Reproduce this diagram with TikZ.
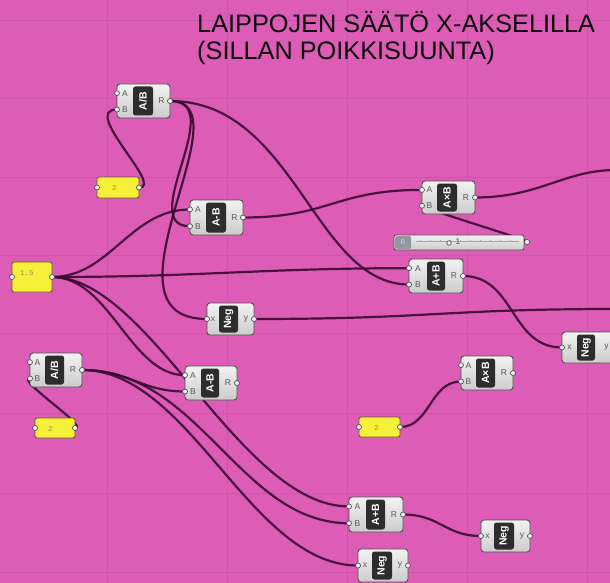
\documentclass[tikz,border=0pt]{standalone}
\usepackage{fontspec}
\setmainfont{Liberation Sans}
\newfontfamily\panelfont{Liberation Mono}
\usetikzlibrary{fit,calc}

\definecolor{canvas}{RGB}{221,93,182}
\definecolor{gridline}{RGB}{206,86,170}
\definecolor{wirecol}{RGB}{55,10,48}
\definecolor{bodytop}{RGB}{242,242,242}
\definecolor{bodybot}{RGB}{204,204,204}
\definecolor{bodyedge}{RGB}{80,80,80}
\definecolor{stripcol}{RGB}{45,45,45}
\definecolor{portlab}{RGB}{90,90,90}
\definecolor{panelfill}{RGB}{247,240,58}
\definecolor{paneledge}{RGB}{110,90,40}
\definecolor{paneltext}{RGB}{150,145,80}
\definecolor{titlecol}{RGB}{12,6,12}
\definecolor{slidertag}{RGB}{150,150,160}

\pgfdeclarelayer{canvaslayer}
\pgfdeclarelayer{wirelayer}
\pgfsetlayers{canvaslayer,wirelayer,main}

\tikzset{
  ghbody/.style={draw=bodyedge, line width=0.9pt, rounded corners=3pt,
    top color=bodytop, bottom color=bodybot, inner sep=0pt, outer sep=0pt},
  ghstrip/.style={fill=stripcol, rounded corners=2.5pt, inner sep=0pt, outer sep=0pt},
  ghtitle/.style={text=white, font=\fontsize{10.5}{10.5}\selectfont\bfseries,
    rotate=90, inner sep=0pt},
  plabel/.style={text=portlab, font=\fontsize{8.5}{8.5}\selectfont, inner sep=0pt},
  grip/.style={circle, fill=white!92!gray, draw=bodyedge, line width=0.7pt,
    minimum size=5pt, inner sep=0pt},
  wire/.style={draw=wirecol, line width=2.2pt, opacity=0.9},
  ghpanel/.style={draw=paneledge, line width=0.9pt, fill=panelfill,
    rounded corners=2pt, inner sep=0pt, outer sep=0pt},
  ptext/.style={text=paneltext, font=\panelfont\fontsize{7.5}{7.5}\selectfont,
    inner sep=0pt, anchor=west},
  titletext/.style={text=titlecol, font=\fontsize{25.3}{27}\selectfont,
    anchor=base west, inner sep=0pt},
}

% body and dark caption strip of a component
\newcommand{\ghcore}[8]{%
  \node[ghbody, fit={(#2,#3) (#4,#5)}] (#1) {};
  \node[ghstrip, fit={(#6,#3+2.5) (#7,#5-2.5)}] (#1-s) {};
  \node[ghtitle] (#1-t) at (#1-s.center) {#8};
}

% two inputs (A, B), one output (R)
\newcommand{\ghtwo}[8]{%
  \ghcore{#1}{#2}{#3}{#4}{#5}{#6}{#7}{#8}
  \pgfmathsetmacro{\ghYa}{#3+0.27*(#5-#3)}
  \pgfmathsetmacro{\ghYb}{#3+0.75*(#5-#3)}
  \pgfmathsetmacro{\ghYr}{(#3+#5)/2}
  \pgfmathsetmacro{\ghXl}{(#2+#6)/2}
  \pgfmathsetmacro{\ghXr}{(#7+#4)/2}
  \coordinate (#1-A) at (#2,\ghYa);
  \coordinate (#1-B) at (#2,\ghYb);
  \coordinate (#1-R) at (#4,\ghYr);
  \node[plabel] (#1-la) at (\ghXl,\ghYa) {A};
  \node[plabel] (#1-lb) at (\ghXl,\ghYb) {B};
  \node[plabel] (#1-lr) at (\ghXr,\ghYr) {R};
  \node[grip] (#1-gA) at (#1-A) {};
  \node[grip] (#1-gB) at (#1-B) {};
  \node[grip] (#1-gR) at (#1-R) {};
}

% negation component: input x, output y
\newcommand{\ghneg}[7]{%
  \ghcore{#1}{#2}{#3}{#4}{#5}{#6}{#7}{Neg}
  \pgfmathsetmacro{\ghYm}{(#3+#5)/2}
  \pgfmathsetmacro{\ghXl}{(#2+#6)/2}
  \pgfmathsetmacro{\ghXr}{(#7+#4)/2}
  \coordinate (#1-x) at (#2,\ghYm);
  \coordinate (#1-y) at (#4,\ghYm);
  \node[plabel] (#1-lx) at (\ghXl,\ghYm) {x};
  \node[plabel] (#1-ly) at (\ghXr,\ghYm) {y};
  \node[grip] (#1-gx) at (#1-x) {};
  \node[grip] (#1-gy) at (#1-y) {};
}

% yellow number panel
\newcommand{\ghnum}[7]{%
  \node[ghpanel, fit={(#2,#3) (#4,#5)}] (#1) {};
  \pgfmathsetmacro{\ghYm}{(#3+#5)/2}
  \pgfmathsetmacro{\ghYt}{#3+11}
  \coordinate (#1-in) at (#2,\ghYm);
  \coordinate (#1-out) at (#4,\ghYm);
  \node[ptext] (#1-txt) at (#6,\ghYt) {#7};
  \node[grip] (#1-gi) at (#1-in) {};
  \node[grip] (#1-go) at (#1-out) {};
}

\begin{document}
\begin{tikzpicture}[x=1pt,y=-1pt]
\useasboundingbox (0,0) rectangle (610,583);
\clip (0,0) rectangle (610,583);

% canvas and grid
\begin{pgfonlayer}{canvaslayer}
  \fill[canvas] (0,0) rectangle (610,583);
  \foreach \gx in {107,227,347,467,587}
    \draw[gridline, line width=0.7pt] (\gx,0) -- (\gx,583);
  \foreach \gy in {20,98,177,255,333,413,493,572}
    \draw[gridline, line width=0.7pt] (0,\gy) -- (610,\gy);
\end{pgfonlayer}

% heading
\node[titletext] (title1) at (197,33) {LAIPPOJEN SÄÄTÖ X-AKSELILLA};
\node[titletext] (title2) at (197,60) {(SILLAN POIKKISUUNTA)};

% components
\ghtwo{divT}{117}{84}{170}{118}{133}{153}{A/B}
\ghtwo{subM}{190}{200}{243}{235}{206}{226}{A-B}
\ghtwo{divL}{30}{353}{82}{387}{45}{64}{A/B}
\ghtwo{subL}{185}{366}{237}{400}{201}{219}{A-B}
\ghtwo{mulT}{422}{181}{475}{214}{437}{457}{A×B}
\ghtwo{addM}{409}{259}{463}{293}{427}{445}{A+B}
\ghtwo{mulL}{461}{356}{513}{390}{476}{495}{A×B}
\ghtwo{addB}{349}{497}{403}{532}{366}{385}{A+B}
\ghneg{negM}{207}{303}{254}{335}{219}{238}
\ghneg{negR}{562}{332}{618}{363}{577}{595}
\ghneg{negBR}{481}{520}{530}{552}{494}{514}
\ghneg{negB}{358}{549}{408}{582}{372}{392}

% number panels
\ghnum{pTwoT}{97}{177}{139}{198}{112}{2}
\ghnum{pOne}{12}{262}{52}{292}{20}{1.5}
\ghnum{pTwoL}{35}{418}{75}{438}{48}{2}
\ghnum{pTwoR}{359}{417}{400}{437}{374}{2}

% number slider
\node[ghbody, rounded corners=2pt, fit={(394,235) (524,250)}] (slider) {};
\node[fill=slidertag, rounded corners=1.5pt, inner sep=0pt,
      fit={(395,236) (411,249)}] (slider-tag) {};
\node[text=white!80!blue, font=\fontsize{7}{7}\selectfont, inner sep=0pt]
  (slider-tagtxt) at (slider-tag.center) {B};
\draw[gray!70, line width=0.5pt] (416,241) -- (519,241);
\foreach \tx in {420,430,...,515}
  \draw[gray!70, line width=0.4pt] (\tx,239.5) -- (\tx,241);
\node[grip, minimum size=4.5pt] (slider-knob) at (449,243) {};
\node[plabel, text=black!70] (slider-val) at (458,242) {1};
\coordinate (slider-R) at (527,242);
\node[grip] (slider-gR) at (slider-R) {};

% loose wire ends beyond the right edge
\coordinate (outNeg) at (616,309);
\coordinate (outMul) at (616,170);

% wires
\begin{pgfonlayer}{wirelayer}
  \draw[wire] (pTwoT-out) .. controls +(26,0) and +(-37,0) .. (divT-B);
  \draw[wire] (divT-R) .. controls +(60,0) and +(-55,0) .. (subM-B);
  \draw[wire] (divT-R) .. controls +(80,0) and +(-117,0) .. (negM-x);
  \draw[wire] (divT-R) .. controls +(125,0) and +(-95,0) .. (addM-B);
  \draw[wire] (subM-R) .. controls +(87,0) and +(-87,0) .. (mulT-A);
  \draw[wire] (slider-R) .. controls +(8,0) and +(-8,0) .. (mulT-B);
  \draw[wire] (pOne-out) .. controls +(58,0) and +(-60,0) .. (subM-A);
  \draw[wire] (pOne-out) .. controls +(148,0) and +(-149,0) .. (addM-A);
  \draw[wire] (pOne-out) .. controls +(58,0) and +(-55,0) .. (subL-A);
  \draw[wire] (pOne-out) .. controls +(98,0) and +(-109,0) .. (addB-A);
  \draw[wire] (divL-R) .. controls +(48,0) and +(-45,0) .. (subL-B);
  \draw[wire] (divL-R) .. controls +(118,0) and +(-109,0) .. (addB-B);
  \draw[wire] (divL-R) .. controls +(108,0) and +(-108,0) .. (negB-x);
  \draw[wire] (pTwoL-out) .. controls +(15,0) and +(-15,0) .. (divL-B);
  \draw[wire] (pTwoR-out) .. controls +(30,0) and +(-31,0) .. (mulL-B);
  \draw[wire] (addM-R) .. controls +(52,0) and +(-52,0) .. (negR-x);
  \draw[wire] (addB-R) .. controls +(37,0) and +(-36,0) .. (negBR-x);
  \draw[wire] (negM-y) .. controls +(176,0) and +(-172,0) .. (outNeg);
  \draw[wire] (mulT-R) .. controls +(65,0) and +(-52,0) .. (outMul);
\end{pgfonlayer}
\end{tikzpicture}
\end{document}
